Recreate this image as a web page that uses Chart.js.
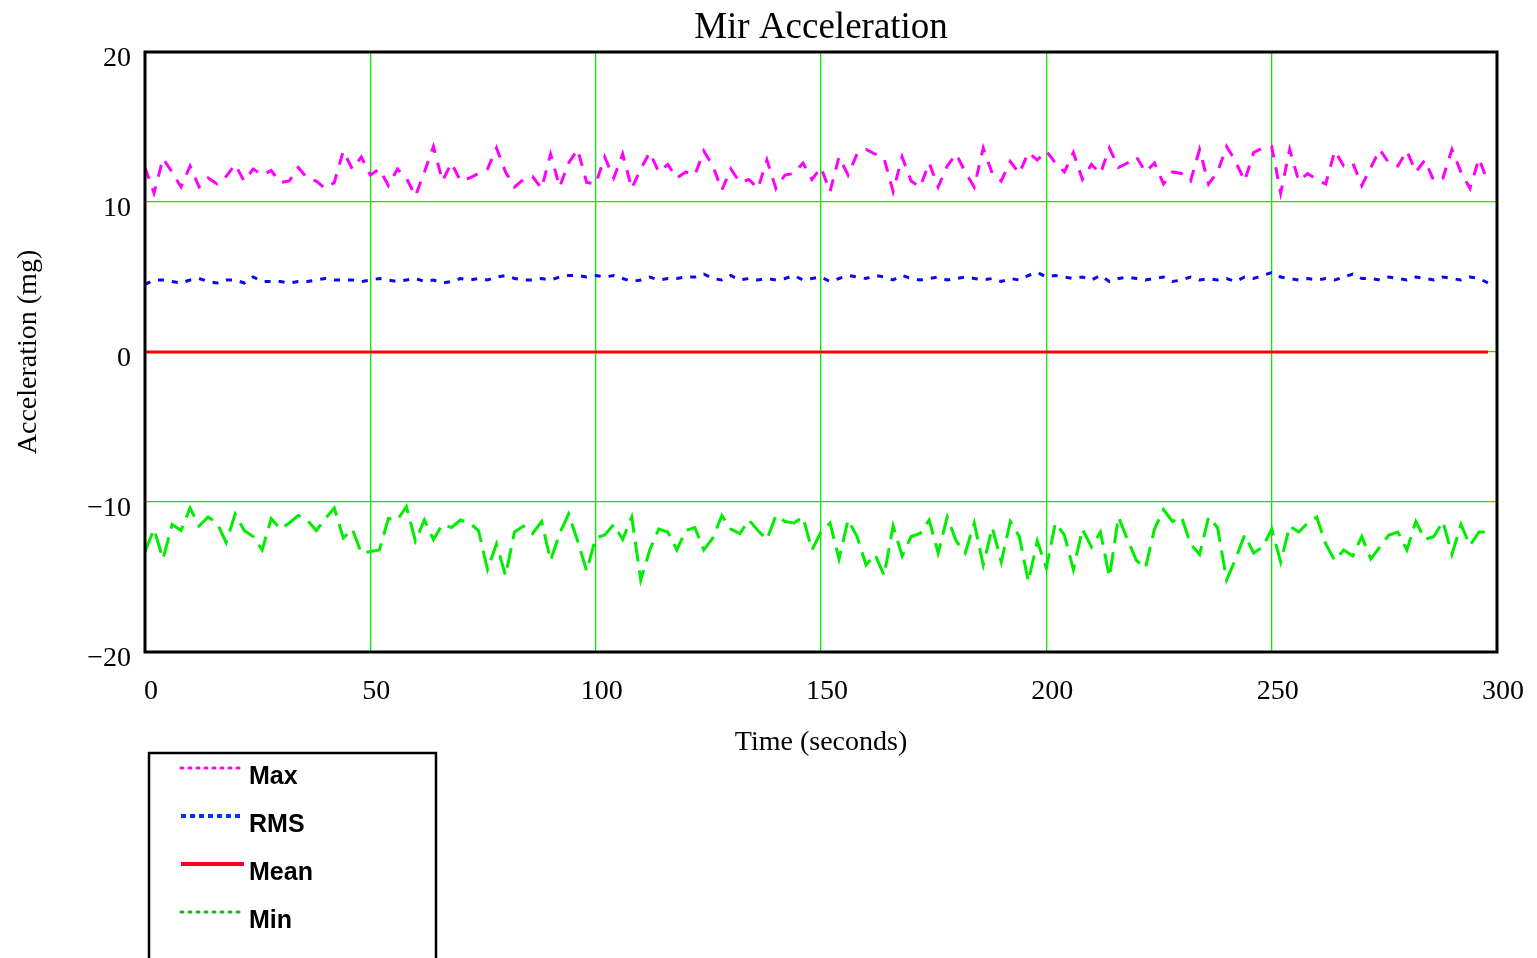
<!DOCTYPE html>
<html>
<head>
<meta charset="utf-8">
<title>Mir Acceleration</title>
<script src="https://cdn.jsdelivr.net/npm/chart.js@4.4.0/dist/chart.umd.min.js"></script>
<style>
  html, body { margin: 0; padding: 0; background: #fff; }
  #wrap { width: 1537px; height: 958px; }
</style>
</head>
<body>
<div id="wrap"><canvas id="chart" width="1537" height="958"></canvas></div>
<script>
// sample times (seconds)
const times = [
  0, 2, 4, 6, 8, 10, 12, 14, 16, 18, 20, 22, 24, 26, 28, 30, 32, 34, 36, 38,
  40, 42, 44, 46, 48, 50, 52, 54, 56, 58, 60, 62, 64, 66, 68, 70, 72, 74, 76, 78,
  80, 82, 84, 86, 88, 90, 92, 94, 96, 98, 100, 102, 104, 106, 108, 110, 112, 114, 116, 118,
  120, 122, 124, 126, 128, 130, 132, 134, 136, 138, 140, 142, 144, 146, 148, 150, 152, 154, 156, 158,
  160, 162, 164, 166, 168, 170, 172, 174, 176, 178, 180, 182, 184, 186, 188, 190, 192, 194, 196, 198,
  200, 202, 204, 206, 208, 210, 212, 214, 216, 218, 220, 222, 224, 226, 228, 230, 232, 234, 236, 238,
  240, 242, 244, 246, 248, 250, 252, 254, 256, 258, 260, 262, 264, 266, 268, 270, 272, 274, 276, 278,
  280, 282, 284, 286, 288, 290, 292, 294, 296, 298
];

const maxValues = [
  12.3, 10.6, 12.9, 12.0, 11.0, 12.4, 11.0, 11.6, 11.2, 11.7,
  12.5, 11.4, 12.2, 11.8, 12.1, 11.3, 11.4, 12.3, 11.6, 11.4,
  10.9, 11.3, 13.4, 12.2, 13.0, 11.8, 12.2, 11.1, 12.2, 11.6,
  10.4, 12.0, 13.7, 11.4, 12.6, 11.4, 11.6, 11.9, 12.2, 13.6,
  12.0, 11.0, 11.5, 11.7, 10.9, 13.2, 11.0, 12.6, 13.5, 11.3,
  11.2, 13.0, 11.6, 13.2, 10.9, 12.2, 13.3, 12.0, 12.5, 11.6,
  12.0, 11.8, 13.4, 12.4, 10.8, 12.2, 11.3, 11.5, 10.9, 12.8,
  10.9, 11.8, 11.9, 12.6, 11.5, 12.3, 10.7, 13.0, 11.8, 13.2,
  13.5, 13.2, 12.9, 10.7, 13.0, 11.4, 11.0, 12.6, 11.0, 12.4,
  13.2, 12.0, 11.0, 13.6, 11.9, 11.4, 12.7, 11.9, 13.3, 12.8,
  13.4, 12.6, 12.0, 13.3, 11.5, 12.5, 11.9, 13.6, 12.3, 12.6,
  13.0, 12.0, 12.6, 11.2, 12.0, 11.9, 11.4, 13.5, 11.2, 12.0,
  13.7, 12.7, 11.4, 13.3, 13.6, 13.7, 10.6, 13.5, 11.4, 11.9,
  11.5, 11.2, 13.4, 12.4, 12.6, 11.1, 12.3, 13.5, 12.6, 12.4,
  13.4, 12.0, 12.8, 11.4, 11.6, 13.5, 12.0, 10.9, 12.9, 11.3
];

const rmsValues = [
  4.5, 4.8, 4.8, 4.7, 4.6, 4.8, 4.9, 4.7, 4.6, 4.8,
  4.8, 4.6, 5.0, 4.7, 4.7, 4.7, 4.6, 4.7, 4.7, 4.8,
  4.9, 4.8, 4.8, 4.8, 4.7, 4.8, 4.9, 4.8, 4.7, 4.8,
  4.9, 4.7, 4.8, 4.6, 4.7, 4.9, 4.8, 4.9, 4.8, 5.0,
  5.1, 4.9, 4.8, 4.8, 4.9, 4.8, 5.0, 5.1, 5.1, 5.0,
  5.1, 5.0, 5.1, 4.9, 4.7, 4.8, 5.0, 4.8, 4.9, 4.9,
  5.0, 5.0, 5.2, 4.9, 4.8, 5.1, 4.8, 4.9, 4.8, 4.9,
  4.8, 4.9, 5.1, 4.8, 4.9, 5.0, 4.7, 4.9, 5.1, 5.0,
  4.9, 5.1, 5.0, 4.8, 5.1, 4.9, 4.8, 4.9, 5.0, 4.8,
  4.9, 5.0, 4.9, 4.8, 4.9, 4.7, 4.9, 4.8, 5.1, 5.3,
  5.0, 5.1, 5.0, 4.9, 5.0, 4.8, 5.1, 4.7, 4.9, 5.0,
  4.9, 4.8, 4.9, 5.0, 4.7, 4.8, 5.0, 4.8, 4.9, 4.8,
  4.9, 4.7, 5.0, 4.9, 5.1, 5.3, 5.0, 4.9, 4.8, 4.9,
  4.8, 4.9, 4.8, 5.0, 5.2, 4.9, 4.9, 4.8, 5.0, 4.9,
  4.8, 5.0, 4.9, 4.8, 5.0, 4.9, 4.8, 5.0, 4.9, 4.6
];

const meanTimes = [0, 298];
const meanValues = [0, 0];

const minValues = [
  -13.3, -11.8, -13.8, -11.5, -11.9, -10.4, -11.6, -11.0, -11.4, -12.7,
  -10.8, -11.9, -12.3, -13.2, -11.1, -11.8, -11.4, -10.9, -11.2, -11.9,
  -11.1, -10.4, -12.4, -11.8, -13.4, -13.3, -13.2, -11.1, -11.2, -10.3,
  -12.6, -11.2, -12.5, -11.5, -11.7, -11.2, -11.4, -11.9, -14.5, -12.8,
  -14.9, -12.0, -11.6, -12.1, -11.3, -13.9, -12.1, -10.8, -12.6, -14.6,
  -12.4, -12.2, -11.5, -12.5, -11.0, -15.2, -13.2, -11.8, -12.0, -13.2,
  -11.9, -11.7, -13.2, -12.4, -10.9, -11.8, -12.1, -11.2, -11.9, -12.5,
  -10.9, -11.3, -11.4, -11.0, -13.2, -12.0, -11.4, -13.8, -11.2, -12.3,
  -14.2, -13.5, -14.9, -11.6, -13.6, -12.3, -12.1, -11.2, -13.4, -11.0,
  -12.6, -13.4, -11.4, -14.2, -11.7, -14.0, -11.3, -12.3, -15.3, -12.6,
  -14.4, -11.4, -12.2, -14.5, -11.8, -13.0, -12.0, -15.0, -11.0, -12.5,
  -13.9, -14.4, -11.8, -10.5, -11.3, -11.0, -12.8, -13.5, -11.0, -11.7,
  -15.2, -13.8, -12.2, -13.4, -13.0, -11.8, -14.0, -11.6, -12.0, -11.4,
  -11.0, -12.8, -13.9, -13.2, -13.6, -12.3, -13.8, -13.0, -12.2, -12.0,
  -13.2, -11.3, -12.5, -12.3, -11.3, -13.5, -11.5, -12.9, -12.0, -12.0
];

const xTicks = [0, 50, 100, 150, 200, 250, 300];
const yTicks = [-20, -10, 0, 10, 20];

const toPoints = (xs, ys) => xs.map((x, i) => ({ x: x, y: ys[i] }));

// legend entries: label, line colour, dash, width, cap
const legendItems = [
  { label: 'Max', color: '#ff00ff', dash: [2, 6], width: 3, cap: 'round' },
  { label: 'RMS', color: '#0033ee', dash: [5, 4], width: 4, cap: 'butt' },
  { label: 'Mean', color: '#ff0022', dash: [], width: 4, cap: 'butt' },
  { label: 'Min', color: '#22aa33', dash: [2, 6], width: 3, cap: 'round' },
];

const serif = '"Liberation Serif", "Times New Roman", serif';

// title centred over the plot area, plus the black frame and the boxed legend
const frameAndLegend = {
  id: 'frameAndLegend',
  afterDatasetsDraw(chart) {
    const { ctx, chartArea } = chart;
    ctx.save();
    ctx.strokeStyle = '#000';
    ctx.lineWidth = 3;
    ctx.strokeRect(chartArea.left, chartArea.top, chartArea.right - chartArea.left, chartArea.bottom - chartArea.top);
    ctx.restore();
  },
  afterDraw(chart) {
    const { ctx, chartArea } = chart;
    ctx.save();
    ctx.fillStyle = '#000';
    ctx.font = '37px ' + serif;
    ctx.textAlign = 'center';
    ctx.textBaseline = 'middle';
    ctx.fillText('Mir Acceleration', (chartArea.left + chartArea.right) / 2, 28);

    ctx.strokeStyle = '#000';
    ctx.lineWidth = 2.5;
    ctx.strokeRect(149, 753, 287, 220);

    ctx.font = 'bold 25px "Liberation Sans", Arial, sans-serif';
    ctx.textAlign = 'left';
    legendItems.forEach((item, i) => {
      const y = 768 + i * 48;
      ctx.beginPath();
      ctx.strokeStyle = item.color;
      ctx.lineWidth = item.width;
      ctx.lineCap = item.cap;
      ctx.setLineDash(item.dash);
      ctx.moveTo(181, y);
      ctx.lineTo(244, y);
      ctx.stroke();
      ctx.setLineDash([]);
      ctx.fillStyle = '#000';
      ctx.fillText(item.label, 249, y + 9);
    });
    ctx.restore();
  }
};

new Chart(document.getElementById('chart'), {
  type: 'line',
  data: {
    datasets: [
      {
        label: 'Max',
        data: toPoints(times, maxValues),
        borderColor: '#ff00ff',
        borderWidth: 3,
        borderDash: [12, 10],
        pointRadius: 0,
        tension: 0,
      },
      {
        label: 'RMS',
        data: toPoints(times, rmsValues),
        borderColor: '#0a0aee',
        borderWidth: 3,
        borderDash: [6, 8],
        pointRadius: 0,
        tension: 0,
      },
      {
        label: 'Mean',
        data: toPoints(meanTimes, meanValues),
        borderColor: '#ff0000',
        borderWidth: 3,
        pointRadius: 0,
        tension: 0,
      },
      {
        label: 'Min',
        data: toPoints(times, minValues),
        borderColor: '#00ee00',
        borderWidth: 3,
        borderDash: [20, 9],
        pointRadius: 0,
        tension: 0,
      },
    ],
  },
  options: {
    responsive: false,
    animation: false,
    layout: { padding: { left: 0, right: 40, top: 52, bottom: 196 } },
    plugins: {
      legend: { display: false },
      tooltip: { enabled: false },
      title: { display: false },
    },
    scales: {
      x: {
        type: 'linear',
        min: 0,
        max: 300,
        afterBuildTicks: (scale) => { scale.ticks = xTicks.map(v => ({ value: v })); },
        afterFit: (scale) => {
          scale.height = 110;
          scale.paddingLeft = 0;
          scale.paddingRight = 0;
        },
        grid: { color: '#00ee00', lineWidth: 1.3, drawTicks: false },
        border: { display: false },
        ticks: {
          color: '#000',
          padding: 23,
          labelOffset: 6,
          maxRotation: 0,
          font: { family: serif, size: 28 },
        },
        title: {
          display: true,
          text: 'Time (seconds)',
          color: '#000',
          font: { family: serif, size: 28 },
          padding: { top: 0, bottom: 3 },
        },
      },
      y: {
        min: -20,
        max: 20,
        afterBuildTicks: (scale) => { scale.ticks = yTicks.map(v => ({ value: v })); },
        afterFit: (scale) => {
          scale.width = 145;
          scale.paddingTop = 0;
          scale.paddingBottom = 0;
        },
        grid: { color: '#00ee00', lineWidth: 1.3, drawTicks: false },
        border: { display: false },
        ticks: {
          color: '#000',
          padding: 14,
          labelOffset: 7,
          font: { family: serif, size: 28 },
          callback: (v) => (v < 0 ? '\u2212' + Math.abs(v) : String(v)),
        },
        title: {
          display: true,
          text: 'Acceleration (mg)',
          color: '#000',
          font: { family: serif, size: 28 },
          padding: { top: 12, bottom: 0 },
        },
      },
    },
  },
  plugins: [frameAndLegend],
});
</script>
</body>
</html>
